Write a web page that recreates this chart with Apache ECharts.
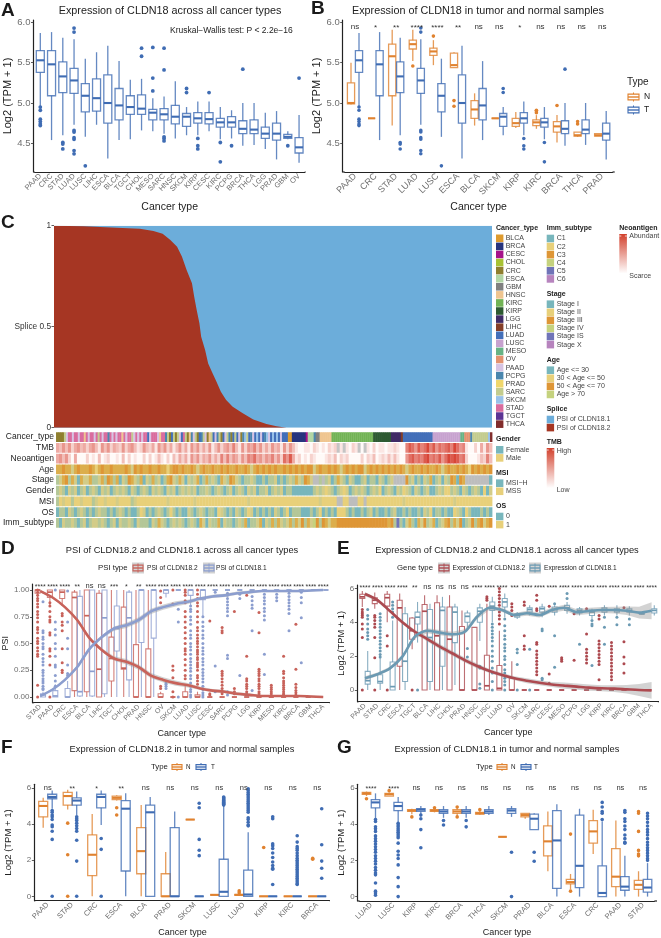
<!DOCTYPE html>
<html><head><meta charset="utf-8">
<style>html,body{margin:0;padding:0;background:#fff}#c{width:661px;height:938px}</style>
<script src="https://cdn.jsdelivr.net/npm/echarts@6/dist/echarts.min.js"></script>
</head><body><div id="c"></div>
<script>
// ---------- DATA ----------
const aCats=['PAAD','CRC','STAD','LUAD','LUSC','LIHC','ESCA','BLCA','TGCT','CHOL','MESO','SARC','HNSC','SKCM','KIRP','CESC','KIRC','PCPG','BRCA','THCA','LGG','PRAD','GBM','OV'];
const aBoxes=[[4.96,5.38,5.53,5.65,5.87],[4.54,5.09,5.48,5.65,5.88],[4.6,5.13,5.33,5.51,5.81],[4.73,5.12,5.28,5.43,5.79],[4.58,4.89,5.09,5.24,5.55],[4.73,4.9,5.06,5.3,5.63],[4.31,4.75,5.0,5.35,5.71],[4.54,4.79,4.97,5.18,5.52],[4.55,4.86,4.95,5.09,5.29],[4.66,4.86,4.93,5.1,5.3],[4.65,4.79,4.88,4.92,5.06],[4.62,4.79,4.86,4.93,5.08],[4.56,4.74,4.83,4.97,5.27],[4.6,4.71,4.83,4.87,4.95],[4.6,4.75,4.81,4.88,5.02],[4.65,4.74,4.8,4.88,5.02],[4.55,4.7,4.76,4.81,4.95],[4.56,4.7,4.76,4.83,4.91],[4.47,4.62,4.68,4.78,5.0],[4.48,4.62,4.67,4.79,5.0],[4.43,4.56,4.62,4.7,4.88],[4.3,4.54,4.62,4.75,4.9],[4.55,4.56,4.58,4.61,4.65],[4.26,4.38,4.45,4.57,4.85]];
const aOut=[[4.95,4.91,4.8,4.77,4.74,4.72],[],[4.51,4.49,4.43],[5.93,5.88,4.66,4.64,4.57,4.55,4.41,4.37],[4.22],[],[],[],[],[5.68,5.58],[5.69,5.31,5.15],[5.68,5.41,4.58,4.56,4.53],[],[5.18,5.13],[4.56,4.47,4.43],[5.13],[4.51,4.27],[4.47],[5.42],[],[],[],[4.47],[5.31]];
const bCats=['PAAD','CRC','STAD','LUAD','LUSC','ESCA','BLCA','SKCM','KIRP','KIRC','BRCA','THCA','PRAD'];
const bSig=['ns','*','**','****','****','**','ns','ns','*','ns','ns','ns','ns'];
const bNBoxes=[[4.98,4.99,5.0,5.25,5.5],[4.81,4.81,4.81,4.81,4.81],[4.72,5.09,5.58,5.73,5.91],[5.52,5.67,5.73,5.78,5.91],[5.47,5.59,5.64,5.68,5.78],[5.44,5.44,5.47,5.62,5.63],[4.72,4.81,4.92,5.03,5.12],[4.81,4.81,4.81,4.81,4.81],[4.69,4.71,4.75,4.81,4.89],[4.68,4.72,4.76,4.79,4.85],[4.51,4.64,4.71,4.77,4.85],[4.58,4.59,4.6,4.64,4.64],[4.59,4.59,4.6,4.62,4.62]];
const bNOut=[[],[],[],[5.46],[5.83],[5.03,4.96],[],[],[],[4.91,4.9,4.88],[4.97],[4.77,4.74],[]];
const spliceX=[0,.067,.143,.196,.227,.248,.265,.281,.292,.303,.315,.32,.326,.332,.336,.345,.352,.362,.371,.381,.393,.408,.431,.455,.485,.508,.531,1];
const spliceY=[1,.997,.99,.985,.974,.96,.93,.896,.847,.78,.715,.65,.58,.517,.45,.385,.318,.269,.228,.178,.137,.104,.071,.041,.018,.007,0,0];
const trackNames=['Cancer_type','TMB','Neoantigen','Age','Stage','Gender','MSI','OS','Imm_subtype'];
const cancerTrack='eeeetqvvqvvqvvhvqvvqvtvqvvrvqvqvvhvqvvtqvqvqvvmqvvvqhvvrtemtetqmvtehrqtemrtqehtmqrtemqtremtmqerutmrqmumqmruqmumumqmmmaabbbbbbbcfffrgghhhhhhiiiiiiiiiiiiiiiiiiiiijjjjjjjjjkkkkklmmmmmmmmmmmmmmmnnnnnnnnnnnnnnooppprttttttttux';
const tmbTrack='4353524534'+'2453153524'+'3252453125'+'3241535241'+'3524153524'+'2513524536'+'3152546352'+'4253415253'+'1001102101'+'0212g1g102'+'1g0g102011'+'0112100687'+'5867968576'+'7869756100'+'204153';
const neoTrack='4535204000'+'2010301200'+'1030201002'+'0201310203'+'1424153524'+'3524263635'+'4253657453'+'5463527584'+'1201021000'+'1213021200'+'0020213012'+'1313100578'+'6768967685'+'7989867200'+'013263';
const ageTrack='aaoaalaoaa'+'aoayaoaaoa'+'aaaoaloaoa'+'aoaaoaayao'+'oaoaaoalao'+'aaoaaoaoaa'+'oaaoalaoao'+'aoaoaaoaoa'+'oaoaoolaoa'+'aoaoalaoao'+'aoolaoaoao'+'aoaoaoalao'+'aaoaoaaoal'+'aoaaoaoayo'+'aoaoao';
const stageTrack='slaosaltal'+'lasslasoas'+'atlsoalsat'+'lsasltsaol'+'saltlslats'+'aslstalsoa'+'lstsslstts'+'tssltstsls'+'alsoalggsg'+'sltsalstls'+'ttsltsstls'+'tslggggosl'+'tstlsatslt'+'lsoatoaggg'+'gggggt';
const genderTrack='slstlsltsl'+'tslstlslts'+'lslstlstsl'+'stlslstlsl'+'tslslsltss'+'lstslstslt'+'slstlsltss'+'ltslsltsst'+'ttttttslsl'+'ylstslylts'+'lslstslsyt'+'slstlsylst'+'lstslttsls'+'yyslstlsts'+'lstytl';
const msiTrack='sylyysyyly'+'yyslyylyyy'+'lyyyyslyyy'+'yyyyyyylyy'+'yyyyyylyyy'+'yyyyyyyyyy'+'yyyylyyyyy'+'yyyyyyyyyy'+'yyyyyyyyly'+'yyyyggyygg'+'gyygyyyyyy'+'yyyyyylyyy'+'yyyyyyyyyy'+'yyylyyyyyy'+'yyyyyy';
const osTrack='tsstlstsls'+'tstslsstst'+'slststtsyl'+'tstslstsys'+'tsttlstsls'+'tsstylstst'+'lstsyltsts'+'tstlstsyts'+'sstttstsyt'+'ststyyysts'+'ttstsltstt'+'stslttstst'+'tstlsytsst'+'sttylstyst'+'ttstst';
const immTrack='stlsslstsl'+'tsllslstsl'+'tlsslstlss'+'stlsalstsl'+'slstslstal'+'tlssatlsst'+'slsatsslat'+'lsasalslas'+'alosalcoso'+'alaaoooooo'+'oooooooooo'+'oaosvstlas'+'taloslatsl'+'aosalotslo'+'saolao';
const dCats=['STAD','PAAD','CRC','ESCA','BLCA','LIHC','TGCT','CHOL','PRAD','HNSC','OV','SKCM','LUAD','LUSC','CESC','SARC','PCPG','LGG','KIRP','MESO','KIRC','BRCA','GBM','THCA'];
const dSig=['****','****','****','**','ns','ns','***','*','**','****','****','****','****','****','****','****','****','****','****','****','****','****','****','****'];
const dRedBoxes=[[.9,.97,1,1,1],[.85,.93,.98,1,1],[.85,.92,.98,1,1],[0,.06,.93,.98,1],[0,.05,.76,1,1],[0,0,.26,.97,1],[0,.15,.36,.56,1],[0,.26,.27,.84,1],[0,0,0,.49,1],[0,0,0,.45,1],[0,0,0,.03,.05],[0,0,0,0,0],[0,0,0,.05,.12],[0,0,0,.02,.05],[0,0,0,0,0],[0,0,0,0,0],[0,0,0,0,0],[0,0,0,0,0],[0,0,0,0,0],[0,0,0,0,0],[0,0,0,0,0],[0,0,0,0,0],[0,0,0,0,0],[0,0,0,0,0]];
const dRedOut=[[1,.98,.95,.92,.9,.87,.84,.8,.77,.74,.7,.65,.63,.6,.55,.52,.5,.46,.43,.4,.38,.11,0],[.88,.85,.8,.75,.72,.7,.6,.58,.45,.43,.38,.3,0],[.78,.76,.7,.67,.62,.45,.32,.25,.23],[],[],[],[],[],[],[],[.99,.93,.88,.1,.08],[1,.87,.29,.25,.18,.05,0],[1,.98,.95,.9,.88,.8,.75,.7,.65,.6,.55,.5,.45,.43,.4,.35,.3,.25,.2,.17],[1,.96,.92,.88,.85,.8,.75,.7,.65,.62,.58,.55,.52,.5,.47,.44,.42,.4,.37,.35,.32,.3,.28,.25,.2,.18,.15,.12],[.71,.03,.02],[.65,.62,.6,.24,.22,.2,.17,.14,.11,.08,.05,.03],[.8,.08,.05,.03],[.95,.38,.17,.15,.12,.1,.08,.05,.03],[.79,.6,.26,.24,.22,.2,.17,.15,.12,.1,.08,.05,.03],[.11,.09,.07,.05,.03],[.38,.24,.22,.18,.15,.13,.11,.09,.07,.05,.03,.02],[.68,.26,.12,.09,.06,.04,.02],[],[]];
const dBlueBoxes=[[0,0,.02,.03,.05],[0,0,.01,.06,.12],[0,0,0,.08,.15],[0,.01,.05,.94,1],[0,.01,.24,1,1],[0,.03,.74,1,1],[0,.43,.64,.85,1],[0,.16,.74,.98,1],[0,.51,1,1,1],[0,.55,1,1,1],[.93,.97,1,1,1],[1,1,1,1,1],[.85,.95,1,1,1],[.75,.91,1,1,1],[1,1,1,1,1],[1,1,1,1,1],[1,1,1,1,1],[1,1,1,1,1],[1,1,1,1,1],[1,1,1,1,1],[1,1,1,1,1],[1,1,1,1,1],[1,1,1,1,1],[1,1,1,1,1]];
const dBlueOut=[[.89,.62,.6,.56,.54,.5,.47,.45,.4,.36,.33,.3,.25,.23,.2,.17,.15,.13,.1,.08,.07],[.7,.63,.58,.5,.45,.38,.3,.28,.2,.15,.1,1],[.99,.7,.55,.45,.3,.22,.2],[],[],[],[],[],[],[],[.13,.12,.1,.08],[.82,.7,0],[.85,.82,.8,.75,.72,.68,.62,.58,.55,.5,.47,.44,.4,.36,.33,.3,.27,.24,.2,.17,.13,.1,.07,.05,.02,0],[.75,.7,.66,.62,.58,.55,.5,.46,.43,.4,.36,.33,.3,.26,.23,.2,.17,.14,.1,.07,.04,.02,0],[.98,.29,.05],[.97,.95,.92,.89,.86,.83,.8,.76,.39,.36,.05,.02],[.96,.92,.2],[.94,.9,.86,.83,.62,.06],[.96,.93,.9,.87,.83,.8,.76,.72,.4,.21],[.96,.93,.9],[.97,.94,.91,.88,.85,.82,.78,.62],[.98,.93,.88,.74,.32],[],[]];
const dRedLine=[.99,.93,.84,.72,.55,.44,.36,.33,.28,.2,.16,.13,.11,.08,.06,.05,.03,.02,.01,.01,.01,.01,.005,0];
const dBlueLine=[.01,.07,.16,.28,.45,.56,.64,.67,.72,.8,.84,.87,.89,.92,.94,.95,.97,.98,.99,.99,.99,.99,.995,1];
const dBandHalf=[.01,.01,.01,.015,.015,.015,.02,.025,.025,.025,.025,.025,.02,.015,.015,.015,.015,.015,.01,.01,.01,.01,.01,.01];
const eCats=['PAAD','STAD','CRC','ESCA','TGCT','BLCA','LIHC','CHOL','PRAD','HNSC','LUSC','LUAD','OV','SKCM','SARC','CESC','MESO','PCPG','LGG','KIRP','KIRC','BRCA','GBM','THCA'];
const eSig=['****','****','****','****','**','ns','ns','ns','ns','****','****','****','***','****','****','****','****','****','****','****','****','****','****','****'];
const eRedBoxes=[[4.9,5.4,5.5,5.65,5.85],[4.8,5.1,5.3,5.45,5.75],[4,4.95,5.45,5.65,5.85],[0,1.4,4.85,5.3,5.7],[2.4,3,3.5,4.25,4.3],[0,0,4.65,5.05,5.6],[0,0,3.2,5.15,5.6],[0,0,3,4.9,5.6],[0,0,0,3.75,4.7],[0,0,0,3.7,3.7],[0,0,.25,2.05,5.1],[0,0,.1,1.45,3.5],[0,0,0,.7,1.7],[0,0,0,0,0],[0,0,0,0,0],[0,0,0,0,0],[0,0,0,0,0],[0,0,0,0,0],[0,0,0,0,0],[0,0,0,0,0],[0,0,0,0,0],[0,0,0,0,0],[0,0,0,0,0],[0,0,0,0,0]];
const eRedOut=[[4.75,4.6,4.5,4.4,4.3,3.9,3.6,3.1,0],[4.4,4.3,4.1,3.9,3.7,3.1,1.9,0],[3.2,2.6,0],[],[0],[],[],[],[],[],[5.5,5.4,5.3],[6,5.8,5.6,5.4,5.2,5,4.8,4.6,4.4,4.2,3.9],[5.1,4.9,4.7,4.4],[5.2,5,3.2,2.6,2.4],[5.6,5.3,4.8,4.7,2.8,2.7,2.3,2.1,1.9,1.7,1.5,1.3,1.1,.9],[4.95,.95,.4],[1.9,1.8,1.7],[4.5,1.75],[4.8,3.3,2.4,2.2,2,1.8,1.6],[4.4,4.2,2.9,2.7,2.5,2.3,2.1,1.9,1.7,1.5,.6],[2.8,2.6,2.4,2.2,2,1.8,1.6,1.4,1.2,1,.8,.6],[4.85,2.85,1.95,1.55,1],[],[]];
const eBlueBoxes=[[0,.35,.55,1.1,2.3],[0,.4,.5,.9,1.9],[0,0,.2,1.65,4.1],[0,.5,1.7,4.5,4.9],[2.8,3.9,4.3,4.6,5.2],[0,.5,3.1,4.75,5.1],[0,1.4,4.7,4.9,5.5],[.3,2.8,4.6,4.9,5.1],[3.7,4,4.35,4.55,4.7],[2.9,4,4.65,4.85,5.1],[4,4.7,4.95,5.2,5.5],[4.3,4.9,5.2,5.4,5.7],[4.2,4.3,4.4,4.5,4.6],[4.4,4.6,4.75,4.85,5],[4.3,4.6,4.8,4.9,5.1],[4.4,4.6,4.75,4.9,5],[4.5,4.7,4.85,5,5.2],[4.4,4.55,4.7,4.8,4.9],[4.2,4.4,4.6,4.7,4.8],[4.4,4.6,4.75,4.85,5],[4.4,4.6,4.7,4.8,5],[4.4,4.6,4.7,4.8,4.95],[4.45,4.48,4.5,4.52,4.55],[4.4,4.55,4.7,4.8,5]];
const eBlueOut=[[4.75,4.4,4.2,3.9,3.6,3.4,3.2,3],[4.5,4.3,4.1,3.9,3.7,3.5,3.3,3.1,2.9,2.7,2.5,2.3,2.1,1.95],[5.2,5,4.8,4.6,4.3],[],[0],[],[],[],[2.45,1.95],[1.4,1.3,.35,.1],[3.9,3.7,3.5,3.3,3.1,2.9,2.6,2.3,2,1.7,1.3,1,.5,0],[4.2,3.8,3.5,3.2,3,2.7,2.5,2.3,2,1.8,1.5,1.2,1,.7,.5,.3,0],[2.4,2.2,1.5,0],[2.4,0],[3.6,3.5,.7,.6],[5.1,3.2,1.35],[5.7,5.4],[2.7],[4.1,3.9,3.8,1.45],[4.3,3.7,2.7],[4.3,3.85],[4.2,3.85],[],[]];
const eRedLine=[5.67,5.31,4.66,4,3.44,3.01,2.56,2.17,1.77,1.42,1.12,.89,.69,.55,.43,.33,.26,.2,.14,.1,.08,.04,0,-.02];
const eBlueLine=[.69,.93,1.28,1.97,3.15,3.5,3.39,3.29,3.44,4.33,4.86,4.72,4.43,4.53,4.43,4.72,4.86,4.59,4.67,4.72,4.72,4.68,4.57,4.68];
const eBandHalf=[.12,.1,.1,.1,.12,.15,.15,.15,.15,.15,.12,.12,.12,.15,.15,.15,.18,.18,.18,.18,.2,.25,.35,.5];
const fCats=['PAAD','STAD','CRC','ESCA','BLCA','PRAD','SKCM','LUSC','LUAD','KIRP','KIRC','BRCA'];
const fSig=['ns','**','*','**','ns','ns','ns','ns','ns','ns','ns','ns'];
const fNBoxes=[[3.8,4.4,5,5.25,5.45],[4.8,5.05,5.55,5.75,5.9],[0,1.15,2.3,3.4,4.55],[5.3,5.35,5.45,5.55,5.6],[0,1.25,2.5,3.8,5.05],[0,0,0,1.25,2.45],[4.25,4.25,4.25,4.25,4.25],[.08,.08,.08,.08,.08],[.05,.06,.08,.1,.12],[0,0,0,0,0],[0,0,0,0,0],[0,0,0,0,0]];
const fNOut=[[],[4.05,2.3,0],[],[4.9,4.5],[],[],[],[],[.3,.2],[2.7],[],[2.1,2.05]];
const fTBoxes=[[4.85,5.4,5.5,5.65,5.85],[4.5,5.05,5.3,5.45,5.8],[3.95,4.9,5.5,5.65,5.85],[0,1.4,4.85,5.3,5.7],[0,0,4.65,5.05,5.5],[0,0,0,3.8,4.7],[0,0,0,0,0],[0,0,.25,2.05,5],[0,0,.1,1.45,3.55],[0,0,0,0,0],[0,0,0,0,0],[0,0,0,0,0]];
const fTOut=[[4.75,4.65,4.5,4.4,4.25,3.95,3.85,3.6,3.15,0],[4.4,4.3,4.2,4.05,3.9,3.75,3.6,3.1,1.95,0],[3.2,2.6,0],[],[],[],[5.15,4.9,3.15,2.55,2.25],[5.5,5.45,5.4,5.35,5.3,5.25,5.2,5.15,5.1,5.05],[5.95,5.85,5.75,5.65,5.55,5.45,5.35,5.25,5.15,5.05,4.95,4.85,4.75,4.65,4.35,4.25,4.1,3.95,3.9],[4.4,4.3,2.9,2.8,2.65,2.4,2.15,1.9,1.7,1.55,1.5,.65],[3.35,3,2.75,2.65,2.55,2.4,2.25,2.1,2,1.9,1.8,1.7,1.6,1.5,1.4,1.3,1.2,1.1,1,.9,.8,.7,.65],[4.85,2.85,1.95,1.55,1]];
const gCats=['LUAD','LUSC','KIRP','KIRC','BRCA','THCA','SKCM','PRAD','BLCA','ESCA','CRC','PAAD','STAD'];
const gSig=['****','****','ns','ns','ns','ns','ns','ns','ns','ns','ns','ns','ns'];
const gNBoxes=[[5.55,5.65,5.7,5.75,5.8],[5.55,5.55,5.65,5.7,5.75],[4.55,4.7,4.75,4.8,4.85],[4.65,4.7,4.75,4.8,4.85],[4.45,4.6,4.7,4.8,4.9],[4.5,4.55,4.6,4.65,4.75],[3.3,3.3,3.3,3.3,3.3],[4.3,4.4,4.5,4.6,4.6],[1.4,2.25,3.05,3.9,4.7],[.4,.7,.8,.95,1.25],[2.35,2.95,3.6,4.2,4.8],[0,.55,1.1,2.65,4.2],[0,.4,.65,.9,1.4]];
const gNOut=[[5.4],[5.85],[4.4],[4.9],[4.95,4.4],[4.8],[],[],[],[3.45,.3],[],[],[4.7,4.6,3.6,2.55,2.35,2.25]];
const gTBoxes=[[4.3,4.9,5.2,5.35,5.7],[4.1,4.75,5,5.2,5.5],[4.55,4.7,4.8,4.85,5],[4.35,4.6,4.7,4.8,5],[4.35,4.6,4.7,4.8,5],[4.5,4.6,4.7,4.8,5],[4.4,4.6,4.75,4.85,5],[3.7,3.7,4.3,4.55,4.6],[0,.45,3.1,4.75,5.1],[0,.5,1.7,4.5,4.85],[0,0,.2,1.7,4.15],[0,.35,.55,1.1,2.25],[0,.25,.5,.95,1.85]];
const gTOut=[[4.25,4.15,3.85,3.75,3.6,3.35,3.2,3.05,2.9,2.75,2.6,2.45,2.25,2.1,1.95,1.8,1.6,1.45,1.3,1.2,.75,.3,.2,.08],[4.05,3.95,3.85,3.75,3.65,3.55,3.45,3.35,3.25,2.95,2.5,2.3,2.1,1.75,1.05,.55,0],[4.5,4.3,3.7,2.7],[4.2,3.95],[4.2,3.85],[],[2.45,0],[2.45,1.95],[],[],[5.2,4.95,4.7,4.6,4.25],[4.75,4.65,4.3,4.15,3.9,3.7,3.4,3.2,3,2.95],[4.6,4.45,4.3,4.1,3.9,3.7,3.55,3.4,3.2,3,2.85,2.7,2.55,2.4,2.25,2.1,2]];
const immLegend=['C1','C2','C3','C4','C5','C6'];
const stageLegend=['Stage I','Stage II','Stage III','Stage IV','Stage IS','Stage X'];
const ageLegend=['Age <= 30','30 < Age <= 50','50 < Age <= 70','Age > 70'];
const cancerLegend=['BLCA','BRCA','CESC','CHOL','CRC','ESCA','GBM','HNSC','KIRC','KIRP','LGG','LIHC','LUAD','LUSC','MESO','OV','PAAD','PCPG','PRAD','SARC','SKCM','STAD','TGCT','THCA'];

// ---------- STYLE ----------
const FONT='"Liberation Sans",Arial,sans-serif';
const BLUE='#3f6cb3',ORANGE='#e0822f',RED_D='#c8625a',BLUE_D='#8c9ecf',RED_E='#ad4a50',BLUE_E='#6b9ab3';
const cancerColors={a:'#de9b2f',b:'#27347e',c:'#a6128a',d:'#a8c234',e:'#8f7f2f',f:'#b2d6a5',g:'#808080',h:'#efc590',i:'#72b355',j:'#2e5a32',k:'#402b66',l:'#843e27',m:'#436fb9',n:'#c7a2cf',o:'#67b385',p:'#e3926f',q:'#d6c3e3',r:'#4a86ae',s:'#f0d76c',t:'#c3cc8e',u:'#98c1e9',v:'#d96c9e',w:'#5c3494',x:'#812c2b'};
const catColors={t:'#78b6bc',y:'#e8d07a',o:'#de9636',s:'#b4c798',l:'#d3cc88',a:'#dcae4c',g:'#bdbdbd',c:'#c5d27e',v:'#7074b8'};
const heat=d=>{if(d==='g')return '#c4c4c4';const k=(+d)/9,m=(a,b)=>Math.round(a+(b-a)*k);return `rgb(${m(255,216)},${m(250,70)},${m(248,56)})`;};
const panelLegendC=['#78b6bc','#e8d07a','#de9636','#c5d27e','#7074b8','#b784be'];

// ---------- PANEL LAYOUT ----------
const panels=[
 {id:'a',cats:aCats,c0:40.3,step:11.25,L:33.5,R:305.7,top:20,bottom:172,min:4.144,max:6.03,ticks:[4.5,5,5.5,6],dec:1,lab:7.5,ytick:9.5,yname:'Log2 (TPM + 1)',ygap:17,yfs:11,xgap:30,xfs:10.5},
 {id:'b',cats:bCats,c0:355,step:20.6,L:342.7,R:614.7,top:20,bottom:172,min:4.144,max:6.03,ticks:[4.5,5,5.5,6],dec:1,lab:9,ytick:9.5,yname:'Log2 (TPM + 1)',ygap:17,yfs:11,xgap:30,xfs:10.5},
 {id:'d',cats:dCats,c0:40.3,step:12.3,L:32.5,R:330,top:584,bottom:702.7,min:-.053,max:1.056,ticks:[0,.25,.5,.75,1],dec:2,lab:7,ytick:8,yname:'PSI',ygap:20,yfs:9,xgap:26,xfs:9},
 {id:'e',cats:eCats,c0:365,step:12.46,L:357.3,R:659,top:585,bottom:701.7,min:-.69,max:6.2,ticks:[0,2,4,6],dec:0,lab:7,ytick:8,yname:'Log2 (TPM + 1)',ygap:9,yfs:9.3,xgap:26,xfs:9},
 {id:'f',cats:fCats,c0:47.7,step:24.5,L:34.3,R:330,top:784.3,bottom:900.7,min:-.243,max:6.2,ticks:[0,2,4,6],dec:0,lab:7.5,ytick:8,yname:'Log2 (TPM + 1)',ygap:21,yfs:9.5,xgap:27,xfs:9},
 {id:'g',cats:gCats,c0:371,step:22.67,L:357.7,R:657,top:784.3,bottom:901,min:-.243,max:6.2,ticks:[0,2,4,6],dec:0,lab:7.5,ytick:8,yname:'Log2 (TPM + 1)',ygap:9,yfs:9.5,xgap:27,xfs:9}
];
const grid=[],xAxis=[],yAxis=[],series=[],graphic=[];
panels.forEach((p,i)=>{
  const bl=p.c0-p.step/2,w=p.step*p.cats.length;
  p.idx=i;
  grid.push({left:bl,top:p.top,width:w,height:p.bottom-p.top});
  xAxis.push({gridIndex:i,type:'category',data:p.cats,boundaryGap:true,name:'Cancer type',nameLocation:'middle',nameGap:p.xgap,
    nameTextStyle:{fontSize:p.xfs,color:'#222',fontFamily:FONT},
    axisLine:{onZero:false,lineStyle:{color:'#222',width:1.2}},axisTick:{alignWithLabel:true,length:2.5,lineStyle:{color:'#333',width:.8}},
    axisLabel:{rotate:45,interval:0,fontSize:p.lab,color:'#6e6e6e',margin:3,fontFamily:FONT},splitLine:{show:false}});
  yAxis.push({gridIndex:i,type:'value',min:p.min,max:p.max,offset:bl-p.L,name:p.yname,nameLocation:'middle',nameGap:p.ygap,
    nameTextStyle:{fontSize:p.yfs,color:'#222',fontFamily:FONT},
    axisLine:{show:true,onZero:false,lineStyle:{color:'#222',width:1.2}},axisTick:{show:true,length:2.5,customValues:p.ticks,lineStyle:{color:'#333',width:.8}},
    axisLabel:{customValues:p.ticks,formatter:v=>(+v).toFixed(p.dec),fontSize:p.ytick,color:'#6e6e6e',margin:3,fontFamily:FONT},splitLine:{show:false}});
  graphic.push({type:'line',shape:{x1:p.L,y1:p.bottom,x2:bl,y2:p.bottom},style:{stroke:'#222',lineWidth:1.2},silent:true});
  graphic.push({type:'line',shape:{x1:bl+w,y1:p.bottom,x2:p.R,y2:p.bottom},style:{stroke:'#222',lineWidth:1.2},silent:true});
});
// Splice area + annotation tracks
const G_SPL=panels.length,G_TRK=panels.length+1;
grid.push({left:54,top:225.7,width:438,height:202});
xAxis.push({gridIndex:G_SPL,type:'value',min:0,max:1,show:false});
yAxis.push({gridIndex:G_SPL,type:'value',min:0,max:1,interval:.5,axisLine:{show:false},axisTick:{show:true,length:2.5,lineStyle:{color:'#333',width:.8}},
  axisLabel:{formatter:v=>v===.5?'Splice 0.5':String(v),fontSize:8.3,color:'#333',margin:3,fontFamily:FONT},splitLine:{show:false}});
grid.push({left:54,top:431.7,width:438,height:96.6});
xAxis.push({gridIndex:G_TRK,type:'value',min:0,max:1,show:false});
yAxis.push({gridIndex:G_TRK,type:'category',inverse:true,data:trackNames,axisLine:{show:false},axisTick:{show:false},
  axisLabel:{fontSize:8.5,color:'#222',margin:2,interval:0,fontFamily:FONT},splitLine:{show:false}});

// ---------- SERIES HELPERS ----------
function addBoxes(pi,boxes,dodge,bw,color,lw,mw){
  series.push({type:'custom',xAxisIndex:pi,yAxisIndex:pi,silent:true,animation:false,clip:false,
    data:boxes.map((b,i)=>[i,...b]),encode:{x:0,y:[1,2,3,4,5]},
    renderItem:(params,api)=>{
      const i=api.value(0),cx=api.coord([i,0])[0]+dodge,Y=k=>api.coord([i,api.value(k)])[1];
      const lo=Y(1),q1=Y(2),md=Y(3),q3=Y(4),hi=Y(5),st={stroke:color,lineWidth:lw,fill:null};
      return {type:'group',children:[
        {type:'line',shape:{x1:cx,y1:lo,x2:cx,y2:q1},style:{...st,opacity:.8}},
        {type:'line',shape:{x1:cx,y1:q3,x2:cx,y2:hi},style:{...st,opacity:.8}},
        {type:'rect',shape:{x:cx-bw/2,y:q3,width:bw,height:q1-q3},style:{...st,opacity:.8}},
        {type:'line',shape:{x1:cx-bw/2,y1:md,x2:cx+bw/2,y2:md},style:{stroke:color,lineWidth:mw}}
      ]};
    }});
}
function addOutliers(pi,outs,dodge,r,color){
  const rows=[];outs.forEach((l,i)=>l.forEach(v=>rows.push([i,v])));
  series.push({type:'custom',xAxisIndex:pi,yAxisIndex:pi,silent:true,animation:false,clip:false,data:rows,encode:{x:0,y:1},
    renderItem:(params,api)=>{const c=api.coord([api.value(0),api.value(1)]);
      return {type:'circle',shape:{cx:c[0]+dodge,cy:c[1],r},style:{fill:color}};}});
}
function addSig(pi,sig,val,fs,ns){
  series.push({type:'custom',xAxisIndex:pi,yAxisIndex:pi,silent:true,animation:false,clip:false,
    data:sig.map((s,i)=>[i,val]),encode:{x:0,y:1},
    renderItem:(params,api)=>{const c=api.coord([api.value(0),api.value(1)]),t=sig[params.dataIndex],isNs=t==='ns';
      return {type:'text',style:{text:t,x:c[0],y:c[1]+(isNs?0:1),fill:'#333',fontSize:isNs?ns:fs,fontFamily:FONT,align:'center',verticalAlign:'middle'}};}});
}
function addSmooth(pi,line,half,color,lw){
  series.push({type:'custom',xAxisIndex:pi,yAxisIndex:pi,silent:true,animation:false,data:[[0,line[0]]],encode:{x:0,y:1},z:3,
    renderItem:(params,api)=>{
      const up=line.map((v,i)=>api.coord([i,v+half[i]])),dn=line.map((v,i)=>api.coord([i,v-half[i]])).reverse();
      return {type:'polygon',shape:{points:up.concat(dn)},style:{fill:'rgba(150,150,150,.42)'}};}});
  series.push({type:'line',xAxisIndex:pi,yAxisIndex:pi,data:line,smooth:.3,showSymbol:false,silent:true,animation:false,lineStyle:{color,width:lw},z:4});
}
// A
addBoxes(0,aBoxes,0,8,BLUE,1.3,2.1);addOutliers(0,aOut,0,1.9,BLUE);
// B
addBoxes(1,bNBoxes,-4,7.2,ORANGE,1.3,2.1);addOutliers(1,bNOut,-4,1.8,ORANGE);
const bT=bCats.map(c=>aBoxes[aCats.indexOf(c)]),bTO=bCats.map(c=>aOut[aCats.indexOf(c)]);
addBoxes(1,bT,4,7.2,BLUE,1.3,2.1);addOutliers(1,bTO,4,1.8,BLUE);
addSig(1,bSig,5.94,8,8);
// D
addBoxes(2,dRedBoxes,-2.7,5,RED_D,1.1,1.7);addOutliers(2,dRedOut,-2.7,1.5,RED_D);
addBoxes(2,dBlueBoxes,2.7,5,BLUE_D,1.1,1.7);addOutliers(2,dBlueOut,2.7,1.5,BLUE_D);
addSmooth(2,dRedLine,dBandHalf,'#c8625a',2.6);addSmooth(2,dBlueLine,dBandHalf,'#8c9ecf',2.6);
addSig(2,dSig,1.035,7,7.5);
// E
addBoxes(3,eRedBoxes,-2.7,5,RED_E,1.1,1.7);addOutliers(3,eRedOut,-2.7,1.5,RED_E);
addBoxes(3,eBlueBoxes,2.7,5,BLUE_E,1.1,1.7);addOutliers(3,eBlueOut,2.7,1.5,BLUE_E);
addSmooth(3,eRedLine,eBandHalf,'#ad4a50',2.6);addSmooth(3,eBlueLine,eBandHalf,'#6b9ab3',2.6);
addSig(3,eSig,6.1,7,7.5);
// F
addBoxes(4,fNBoxes,-4.5,9,ORANGE,1.3,2.1);addOutliers(4,fNOut,-4.5,1.8,ORANGE);
addBoxes(4,fTBoxes,4.5,9,BLUE,1.3,2.1);addOutliers(4,fTOut,4.5,1.8,BLUE);
addSig(4,fSig,6,7,7.5);
// G
addBoxes(5,gNBoxes,-4.5,8.5,ORANGE,1.3,2.1);addOutliers(5,gNOut,-4.5,1.8,ORANGE);
addBoxes(5,gTBoxes,4.5,8.5,BLUE,1.3,2.1);addOutliers(5,gTOut,4.5,1.8,BLUE);
addSig(5,gSig,6,7,7.5);
// C splice
series.push({type:'line',xAxisIndex:G_SPL,yAxisIndex:G_SPL,data:[[0,1],[1,1]],showSymbol:false,silent:true,animation:false,lineStyle:{width:0},areaStyle:{color:'#6cadda',opacity:1}});
series.push({type:'line',xAxisIndex:G_SPL,yAxisIndex:G_SPL,data:spliceX.map((x,i)=>[x,spliceY[i]]),showSymbol:false,silent:true,animation:false,lineStyle:{width:0},areaStyle:{color:'#a63623',opacity:1}});
// C tracks
const tracks=[[cancerTrack,c=>cancerColors[c]],[tmbTrack,heat],[neoTrack,heat],[ageTrack,c=>catColors[c]],[stageTrack,c=>catColors[c]],[genderTrack,c=>catColors[c]],[msiTrack,c=>catColors[c]],[osTrack,c=>catColors[c]],[immTrack,c=>catColors[c]]];
const trackRows=[];
tracks.forEach(([s,col],t)=>{for(let i=0;i<s.length;i++)trackRows.push([i/s.length,t,(i+1)/s.length,col(s[i])]);});
series.push({type:'custom',xAxisIndex:G_TRK,yAxisIndex:G_TRK,silent:true,animation:false,clip:true,data:trackRows,encode:{x:0,y:1},
  renderItem:(params,api)=>{
    const r=trackRows[params.dataIndex],a=api.coord([r[0],r[1]]),b=api.coord([r[2],r[1]]),h=api.size([0,1])[1];
    return {type:'rect',shape:{x:a[0],y:a[1]-h/2+.5,width:b[0]-a[0]+.4,height:h-1},style:{fill:r[3]}};
  }});

// ---------- TITLES / TEXT ----------
const ttl=(text,x,y,fs)=>({text,left:x,top:y,padding:0,textAlign:'center',textVerticalAlign:'middle',textStyle:{fontSize:fs,fontWeight:'normal',color:'#222',fontFamily:FONT}});
const title=[
 ttl('Expression of CLDN18 across all cancer types',170,11,10.8),
 ttl('Expression of CLDN18 in tumor and normal samples',478,11,10.8),
 ttl('PSI of CLDN18.2 and CLDN18.1 across all cancer types',182,550,9.3),
 ttl('Expression of CLDN18.2 and CLDN18.1 across all cancer types',507,550,9.3),
 ttl('Expression of CLDN18.2 in tumor and normal samples',182,749,9.3),
 ttl('Expression of CLDN18.1 in tumor and normal samples',507,749,9.3)
];
const T=(text,x,y,fs,extra={})=>graphic.push({type:'text',silent:true,style:{text,x,y,fontSize:fs,fontFamily:FONT,fill:'#222',verticalAlign:'middle',...extra}});
[['A',1,11],['B',311,9],['C',1,223],['D',1,549],['E',337,549],['F',1,748],['G',337,748]].forEach(l=>T(l[0],l[1],l[2],19,{fontWeight:'bold',fill:'#1a1a1a'}));
T('Kruskal\u2212Wallis test: P < 2.2e\u221216',170,31,8.5);
// box-key helper
function key(x,y,w,h,color,band){
  if(band)graphic.push({type:'rect',silent:true,shape:{x:x-1,y:y-h/2-1,width:w+2,height:h+2},style:{fill:'rgba(190,190,190,.7)'}});
  graphic.push({type:'line',silent:true,shape:{x1:x+w/2,y1:y-h/2,x2:x+w/2,y2:y+h/2},style:{stroke:color,lineWidth:1}});
  graphic.push({type:'rect',silent:true,shape:{x,y:y-h/2+1.6,width:w,height:h-3.2},style:{stroke:color,lineWidth:1.1,fill:band?'rgba(255,255,255,.1)':'#fff'}});
  graphic.push({type:'line',silent:true,shape:{x1:x,y1:y,x2:x+w,y2:y},style:{stroke:color,lineWidth:1.4}});
}
// B legend
T('Type',627,82,10);key(628,97,11,9,ORANGE);T('N',644,97,8.5);key(628,110,11,9,BLUE);T('T',644,110,8.5);
// D legend
T('PSI type',98,568,7.8);key(133,568,10,9,RED_D,true);T('PSI of CLDN18.2',147,568,6.6);key(204,568,10,9,BLUE_D,true);T('PSI of CLDN18.1',216,568,6.6);
// E legend
T('Gene type',397,568,7.8);key(439,568,10,9,RED_E,true);T('Expression of CLDN18.2',452.5,568,6.6);key(530,568,10,9,BLUE_E,true);T('Expression of CLDN18.1',544,568,6.6);
// F, G legends
T('Type',151,767,7.8);key(172,767,10,8,ORANGE);T('N',186,767,6.3);key(196,767,10,8,BLUE);T('T',211,767,6.3);
T('Type',476,767,7.8);key(497,767,10,8,ORANGE);T('N',511,767,6.3);key(521,767,10,8,BLUE);T('T',534,767,6.3);

// C legends
const swatch=(x,y,c)=>graphic.push({type:'rect',silent:true,shape:{x,y:y-3.8,width:7.4,height:7.6},style:{fill:c}});
const LEG=7;
const head=(t,x,y)=>T(t,x,y,7,{fontWeight:'bold'});
const col1=496,col2=546.7;
head('Cancer_type',col1,228);
Object.keys(cancerColors).forEach((k,i)=>{const y=238.3+i*8.08;swatch(col1,y,cancerColors[k]);T(cancerLegend[i],col1+9.7,y,LEG,{fill:'#444'});});
const block=(name,x,y0,labels,colors,step=8.08)=>{head(name,x,y0);labels.forEach((l,i)=>{const y=y0+10.5+i*step;swatch(x,y,colors[i]);T(l,x+10,y,LEG,{fill:'#444'});});};
block('Gender',col1,439.3,['Female','Male'],panelLegendC);
block('MSI',col1,472.7,['MSI\u2212H','MSS'],panelLegendC);
block('OS',col1,506,['0','1'],panelLegendC);
block('Imm_subtype',col2,228,immLegend,panelLegendC);
block('Stage',col2,293.7,stageLegend,panelLegendC);
block('Age',col2,359.7,ageLegend,panelLegendC);
block('Splice',col2,409,['PSI of CLDN18.1','PSI of CLDN18.2'],['#6cadda','#a63623']);
head('TMB',col2,442.3);
const grad=(x,y,h)=>{graphic.push({type:'rect',silent:true,shape:{x,y,width:7.6,height:h},style:{fill:new echarts.graphic.LinearGradient(0,0,0,1,[{offset:0,color:'#d2402c'},{offset:1,color:'#ffffff'}])}});
  graphic.push({type:'line',silent:true,shape:{x1:x,y1:y+2,x2:x+2,y2:y+2},style:{stroke:'#fff',lineWidth:.8}});graphic.push({type:'line',silent:true,shape:{x1:x+5.6,y1:y+2,x2:x+7.6,y2:y+2},style:{stroke:'#fff',lineWidth:.8}});};
grad(col2,448,40);T('High',col2+10,450.7,LEG,{fill:'#444'});T('Low',col2+10,490.3,LEG,{fill:'#444'});
head('Neoantigen',619.3,227.7);
grad(619.3,234,39.5);T('Abundant',629.3,236,LEG,{fill:'#444'});T('Scarce',629.3,275.7,LEG,{fill:'#444'});

const chart=echarts.init(document.getElementById('c'),null,{renderer:'canvas'});
chart.setOption({animation:false,backgroundColor:'#fff',title,grid,xAxis,yAxis,series,graphic:{elements:graphic},tooltip:{show:false}});
</script></body></html>
